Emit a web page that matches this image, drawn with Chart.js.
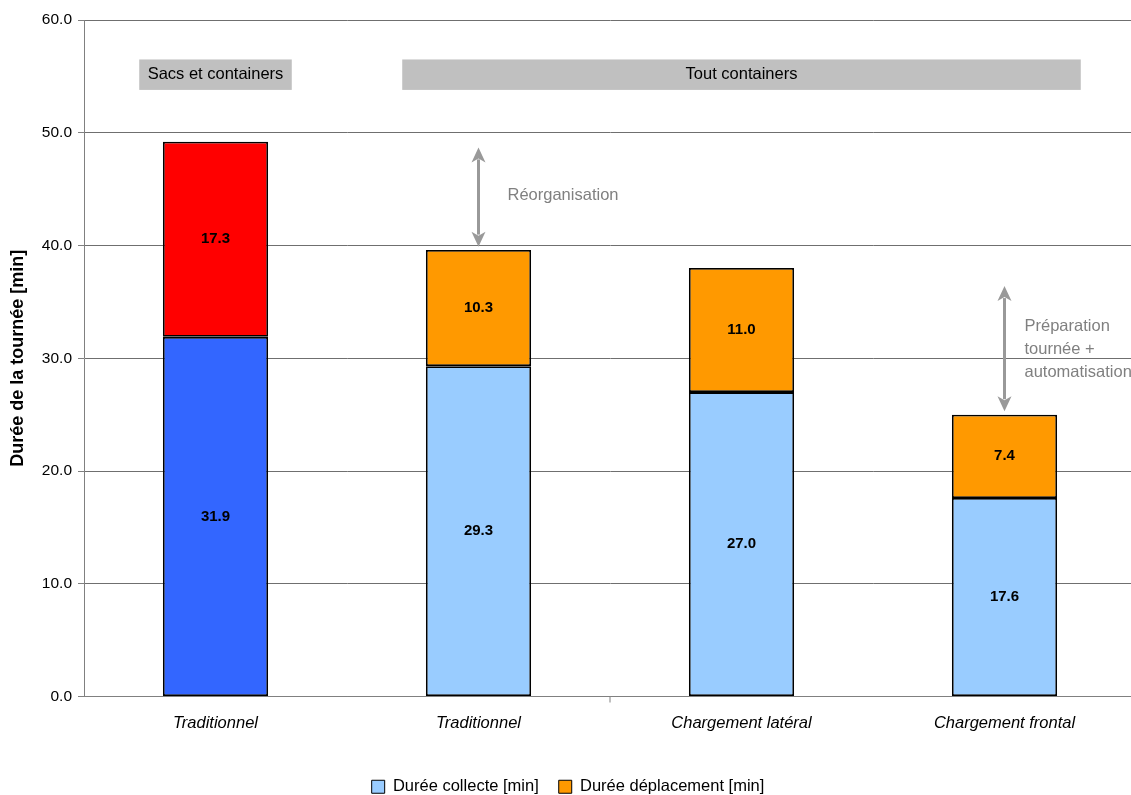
<!DOCTYPE html>
<html>
<head>
<meta charset="utf-8">
<script src="https://cdn.jsdelivr.net/npm/chart.js@4.4.0/dist/chart.umd.min.js"></script>
<style>
    html, body { margin: 0; padding: 0; background: #fff; overflow: hidden; }
    #wrap { width: 1140px; height: 805px; }
</style>
</head>
<body>
<div id="wrap"><canvas id="tourChart" width="1140" height="805"></canvas></div>
<script>
// Data
const categories = ['Traditionnel', 'Traditionnel', 'Chargement latéral', 'Chargement frontal'];
const collecte = [31.9, 29.3, 27.0, 17.6];
const deplacement = [17.3, 10.3, 11.0, 7.4];
const seriesNames = ['Durée collecte [min]', 'Durée déplacement [min]'];
const yTicks = [0, 10, 20, 30, 40, 50, 60];
const groupNames = ['Sacs et containers', 'Tout containers'];
const groupFirst = [0, 1];
const groupLast = [0, 3];
const notes = [['Réorganisation'], ['Préparation', 'tournée +', 'automatisation']];
const noteCategory = [1, 3];

Chart.defaults.font.family = '"Liberation Sans", Arial, sans-serif';
Chart.defaults.color = '#000';

const collecteColors = ['#3366FF', '#99CCFF', '#99CCFF', '#99CCFF'];
const deplacementColors = ['#FF0000', '#FF9900', '#FF9900', '#FF9900'];
const legendColors = ['#99CCFF', '#FF9900'];

// value labels in the middle of each segment
const valueLabels = {
    id: 'valueLabels',
    afterDatasetsDraw(chart) {
        const ctx = chart.ctx;
        ctx.save();
        ctx.font = 'bold 15px "Liberation Sans", Arial, sans-serif';
        ctx.fillStyle = '#000';
        ctx.textAlign = 'center';
        ctx.textBaseline = 'middle';
        chart.data.datasets.forEach((ds, di) => {
            chart.getDatasetMeta(di).data.forEach((bar, i) => {
                const p = bar.getCenterPoint();
                ctx.fillText(ds.data[i].toFixed(1), p.x, p.y);
            });
        });
        ctx.restore();
    }
};

// group boxes + arrows with comments
const annotations = {
    id: 'annotations',
    afterDatasetsDraw(chart, args, opts) {
        const ctx = chart.ctx;
        const x = chart.scales.x, y = chart.scales.y;
        const catW = x.width / categories.length;
        ctx.save();

        // grey group boxes
        groupNames.forEach((name, i) => {
            const left = x.getPixelForValue(groupFirst[i]) - catW * opts.boxPad;
            const right = x.getPixelForValue(groupLast[i]) + catW * opts.boxPad;
            const top = y.getPixelForValue(opts.boxTop);
            const bottom = y.getPixelForValue(opts.boxBottom);
            ctx.fillStyle = '#C0C0C0';
            ctx.fillRect(left, top, right - left, bottom - top);
            ctx.fillStyle = '#000';
            ctx.font = '16.5px "Liberation Sans", Arial, sans-serif';
            ctx.textAlign = 'center';
            ctx.textBaseline = 'middle';
            ctx.fillText(name, (left + right) / 2, (top + bottom) / 2);
        });

        // lone tick between the 2nd and 3rd category
        const tx = (x.getPixelForValue(1) + x.getPixelForValue(2)) / 2;
        ctx.strokeStyle = '#808080';
        ctx.lineWidth = 1;
        ctx.beginPath();
        ctx.moveTo(tx, y.bottom);
        ctx.lineTo(tx, y.bottom + 6);
        ctx.stroke();

        // double arrows
        notes.forEach((lines, i) => {
            const ax = x.getPixelForValue(noteCategory[i]);
            const y1 = y.getPixelForValue(opts.arrowFrom[i]);
            const y2 = y.getPixelForValue(opts.arrowTo[i]);
            const head = 15, hw = 7;
            ctx.strokeStyle = '#999';
            ctx.fillStyle = '#999';
            ctx.lineWidth = 3;
            ctx.beginPath();
            ctx.moveTo(ax, y1 + head - 3);
            ctx.lineTo(ax, y2 - head + 3);
            ctx.stroke();
            ctx.beginPath();
            ctx.moveTo(ax, y1);
            ctx.lineTo(ax - hw, y1 + head);
            ctx.lineTo(ax, y1 + head - 4);
            ctx.lineTo(ax + hw, y1 + head);
            ctx.closePath();
            ctx.fill();
            ctx.beginPath();
            ctx.moveTo(ax, y2);
            ctx.lineTo(ax - hw, y2 - head);
            ctx.lineTo(ax, y2 - head + 4);
            ctx.lineTo(ax + hw, y2 - head);
            ctx.closePath();
            ctx.fill();

            ctx.fillStyle = '#808080';
            ctx.font = '16.5px "Liberation Sans", Arial, sans-serif';
            ctx.textAlign = 'left';
            ctx.textBaseline = 'middle';
            const ty = y.getPixelForValue(opts.textAt[i]);
            lines.forEach((t, k) => ctx.fillText(t, ax + opts.textGap[i], ty + k * 23));
        });
        ctx.restore();
    }
};

const ctx = document.getElementById('tourChart').getContext('2d');

new Chart(ctx, {
    type: 'bar',
    data: {
        labels: categories,
        datasets: [{
            label: seriesNames[0],
            data: collecte,
            backgroundColor: collecteColors,
        }, {
            label: seriesNames[1],
            data: deplacement,
            backgroundColor: deplacementColors,
        }]
    },
    options: {
        responsive: false,
        animation: false,
        devicePixelRatio: 1,
        layout: { padding: { top: 20, right: 4, left: 0, bottom: 0 } },
        datasets: {
            bar: {
                categoryPercentage: 1,
                barPercentage: 0.4,
                borderColor: '#000',
                borderWidth: 1.8,
                borderSkipped: false,
            }
        },
        scales: {
            x: {
                stacked: true,
                grid: { display: false, drawTicks: false },
                border: { color: '#808080', width: 1 },
                ticks: {
                    padding: 17,
                    font: { size: 16.5, style: 'italic' },
                    color: '#000'
                },
                afterFit(scale) { scale.height = 62; }
            },
            y: {
                stacked: true,
                min: 0,
                max: 60,
                afterBuildTicks(scale) { scale.ticks = yTicks.map(v => ({ value: v })); },
                grid: { color: '#6f6f6f', tickColor: '#808080', tickLength: 6, lineWidth: 1 },
                border: { color: '#808080', width: 1 },
                ticks: {
                    padding: 6,
                    font: { size: 15.5 },
                    color: '#000',
                    callback: v => Number(v).toFixed(1)
                },
                title: {
                    display: true,
                    text: 'Durée de la tournée [min]',
                    font: { size: 18, weight: 'bold' },
                    color: '#000',
                    padding: { top: 7, bottom: 0 }
                },
                afterFit(scale) { scale.width = 84; }
            }
        },
        plugins: {
            tooltip: { enabled: false },
            legend: {
                position: 'bottom',
                labels: {
                    boxWidth: 13,
                    boxHeight: 13,
                    padding: 20,
                    font: { size: 16.5 },
                    color: '#000',
                    generateLabels(chart) {
                        return chart.data.datasets.map((ds, i) => ({
                            text: ds.label,
                            fillStyle: legendColors[i],
                            strokeStyle: '#000',
                            lineWidth: 1,
                            hidden: false,
                            datasetIndex: i
                        }));
                    }
                }
            },
            annotations: {
                boxPad: 0.29,
                boxTop: 56.5,
                boxBottom: 53.8,
                arrowFrom: [48.7, 36.4],
                arrowTo: [39.9, 25.3],
                textAt: [44.4, 32.8],
                textGap: [29, 20]
            }
        }
    },
    plugins: [valueLabels, annotations]
});
</script>
</body>
</html>
